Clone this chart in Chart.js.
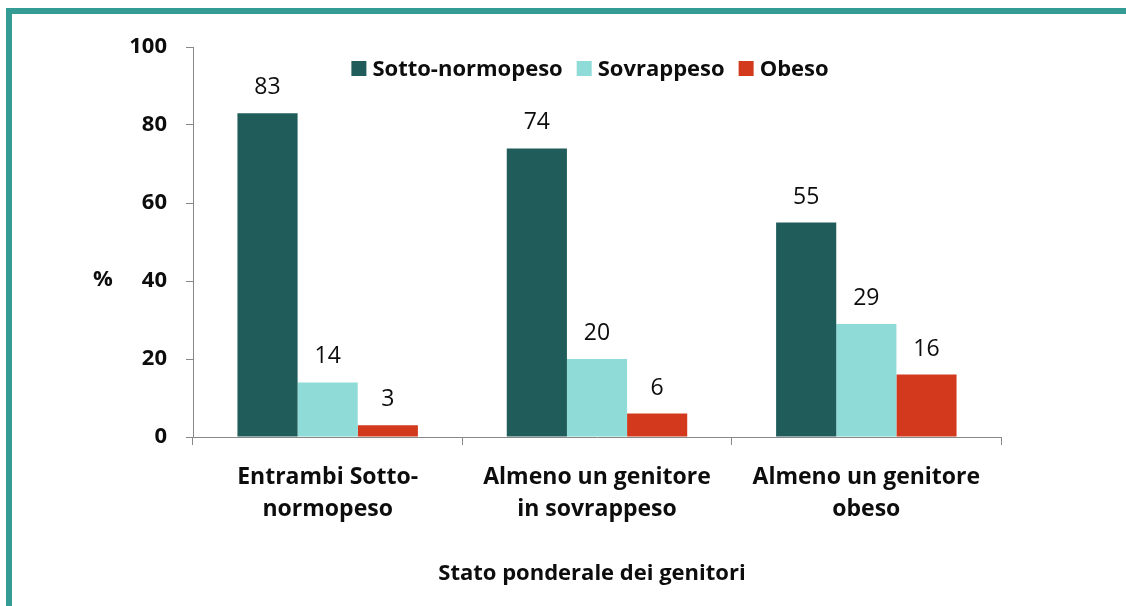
<!DOCTYPE html>
<html>
<head>
<meta charset="utf-8">
<script src="https://cdn.jsdelivr.net/npm/chart.js@4"></script>
<style>
  html, body { margin: 0; padding: 0; background: #fff; }
  #wrap { position: relative; width: 1126px; height: 606px; }
  #frame { position: absolute; left: 6px; top: 8px; right: 0; bottom: 0;
           border-top: 6px solid #359b95; border-left: 6px solid #359b95; }
  canvas { position: absolute; left: 0; top: 0; }
</style>
</head>
<body>
<div id="wrap">
  <div id="frame"></div>
  <canvas id="chart" width="1126" height="606"></canvas>
</div>
<script>
// categories and series
const categories = [['Entrambi Sotto-', 'normopeso'], ['Almeno un genitore', 'in sovrappeso'], ['Almeno un genitore', 'obeso']];
const sottoNormopeso = [83, 74, 55];
const sovrappeso = [14, 20, 29];
const obeso = [3, 6, 16];
const seriesNames = ['Sotto-normopeso', 'Sovrappeso', 'Obeso'];
const yTicks = [0, 20, 40, 60, 80, 100];
const xTitle = 'Stato ponderale dei genitori';
const yTitle = '%';

const fontFamily = '"Open Sans", sans-serif';
const textColor = '#0d0d0d';

// value labels, legend and axis titles drawn by hand
const extras = {
    id: 'extras',
    afterDatasetsDraw(chart) {
        const ctx = chart.ctx;
        ctx.save();
        ctx.fillStyle = textColor;
        ctx.textBaseline = 'alphabetic';

        // values over bars
        ctx.font = '23px ' + fontFamily;
        ctx.textAlign = 'center';
        chart.data.datasets.forEach((ds, i) => {
            chart.getDatasetMeta(i).data.forEach((bar, j) => {
                ctx.fillText(ds.data[j], bar.x, bar.y - 19);
            });
        });

        // axis titles
        ctx.font = 'bold 22px ' + fontFamily;
        ctx.fillText(yTitle, 103, 286);
        ctx.fillText(xTitle, 592, 580);

        // legend
        const box = 15, gap = 6, spacing = 14;
        const widths = chart.data.datasets.map(ds => ctx.measureText(ds.label).width);
        const total = widths.reduce((a, w) => a + box + gap + w, 0) + spacing * (widths.length - 1);
        let x = 590 - total / 2;
        const base = 76;
        ctx.textAlign = 'left';
        chart.data.datasets.forEach((ds, i) => {
            ctx.fillStyle = ds.backgroundColor;
            ctx.fillRect(x, base - box, box, box);
            x += box + gap;
            ctx.fillStyle = textColor;
            ctx.fillText(ds.label, x, base);
            x += widths[i] + spacing;
        });
        ctx.restore();
    }
};

new Chart(document.getElementById('chart'), {
    type: 'bar',
    data: {
        labels: categories,
        datasets: [
            { label: seriesNames[0], data: sottoNormopeso, backgroundColor: '#1f5c5a' },
            { label: seriesNames[1], data: sovrappeso, backgroundColor: '#8fdbd8' },
            { label: seriesNames[2], data: obeso, backgroundColor: '#d33a1d' }
        ]
    },
    options: {
        responsive: false,
        animation: false,
        layout: { padding: { left: 0, right: 125, top: 47, bottom: 0 } },
        datasets: { bar: { categoryPercentage: 0.67, barPercentage: 1 } },
        plugins: {
            legend: { display: false },
            tooltip: { enabled: false }
        },
        scales: {
            x: {
                grid: { drawOnChartArea: false, drawTicks: true, tickLength: 8, color: '#888' },
                border: { color: '#888' },
                ticks: { color: textColor, padding: 16, font: { family: fontFamily, size: 23, weight: 'bold', lineHeight: 1.4 } },
                afterFit(s) { s.height = 169; }
            },
            y: {
                min: 0, max: 100,
                afterBuildTicks(s) { s.ticks = yTicks.map(v => ({ value: v })); },
                grid: { drawOnChartArea: false, drawTicks: true, tickLength: 7, color: '#888' },
                border: { color: '#888' },
                ticks: { color: textColor, padding: 19, font: { family: fontFamily, size: 22, weight: 'bold' } },
                afterFit(s) { s.width = 193; }
            }
        }
    },
    plugins: [extras]
});
</script>
</body>
</html>
